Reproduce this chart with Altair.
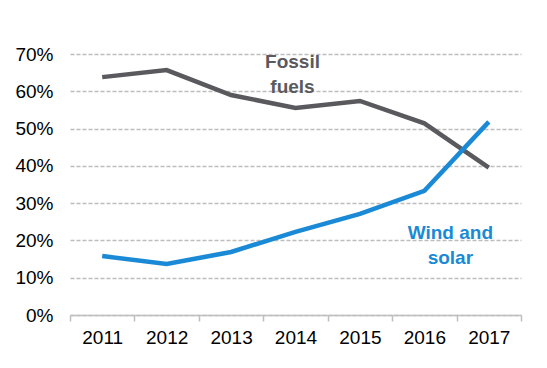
import altair as alt
import pandas as pd

years = ["2011", "2012", "2013", "2014", "2015", "2016", "2017"]
fossil = [0.638, 0.657, 0.590, 0.555, 0.574, 0.514, 0.395]
wind_solar = [0.158, 0.137, 0.169, 0.223, 0.271, 0.333, 0.518]

label_text = ["Fossil\nfuels", "Wind and\nsolar"]
label_year = ["2014", "2016"]
label_value = [0.678, 0.219]
label_series = ["Fossil fuels", "Wind and solar"]
label_dx = [-3, 26]

series_names = ["Fossil fuels", "Wind and solar"]
series_colors = ["#5a5a5e", "#1a8ad6"]

df = pd.DataFrame(
    {"year": years * 2,
     "value": fossil + wind_solar,
     "series": ["Fossil fuels"] * len(years) + ["Wind and solar"] * len(years)}
)
labels = pd.DataFrame({"year": label_year, "value": label_value,
                       "text": label_text, "series": label_series})

color = alt.Color("series:N", scale=alt.Scale(domain=series_names, range=series_colors), legend=None)
xscale = alt.Scale(type="band", paddingInner=0, paddingOuter=0)
yscale = alt.Scale(domain=[0, 0.7], nice=False)

x = alt.X("year:O", sort=years, scale=xscale, bandPosition=0.5,
          axis=alt.Axis(title=None, labelAngle=0, tickBand="extent", ticks=True, tickSize=6,
                        tickColor="#bfbfbf", domainColor="#bfbfbf", domainWidth=1.5, tickWidth=1.5,
                        labelFont="Liberation Sans", labelFontSize=19, labelColor="#000000",
                        labelPadding=7, grid=False))
y = alt.Y("value:Q", scale=yscale,
          axis=alt.Axis(title=None, format=".0%", values=[0, 0.1, 0.2, 0.3, 0.4, 0.5, 0.6, 0.7],
                        domain=False, ticks=False, grid=True, gridColor="#bdbdbd", gridDash=[4, 2],
                        gridWidth=1.5, labelFont="Liberation Sans", labelFontSize=19,
                        labelColor="#000000", labelPadding=17, labelOverlap=False))

lines = alt.Chart(df).mark_line(strokeWidth=4.5).encode(
    x=x, y=y, color=color, detail="series:N")

texts = []
for i, s in enumerate(label_series):
    texts.append(alt.Chart(labels[labels.series == s]).mark_text(
        font="Liberation Sans", fontSize=19, fontWeight="bold", lineHeight=25, align="center",
        baseline="middle", dx=label_dx[i], lineBreak="\n").encode(
        x=x, y=y, text="text:N", color=color))

chart = alt.layer(lines, *texts).properties(
    width=451, height=261,
    autosize=alt.AutoSizeParams(type="none"),
    padding={"left": 62, "top": 46, "right": 18, "bottom": 45},
).configure(background="white", view=alt.ViewConfig(stroke=None))

chart.save("out.html", embed_options={"renderer": "svg", "actions": False})
